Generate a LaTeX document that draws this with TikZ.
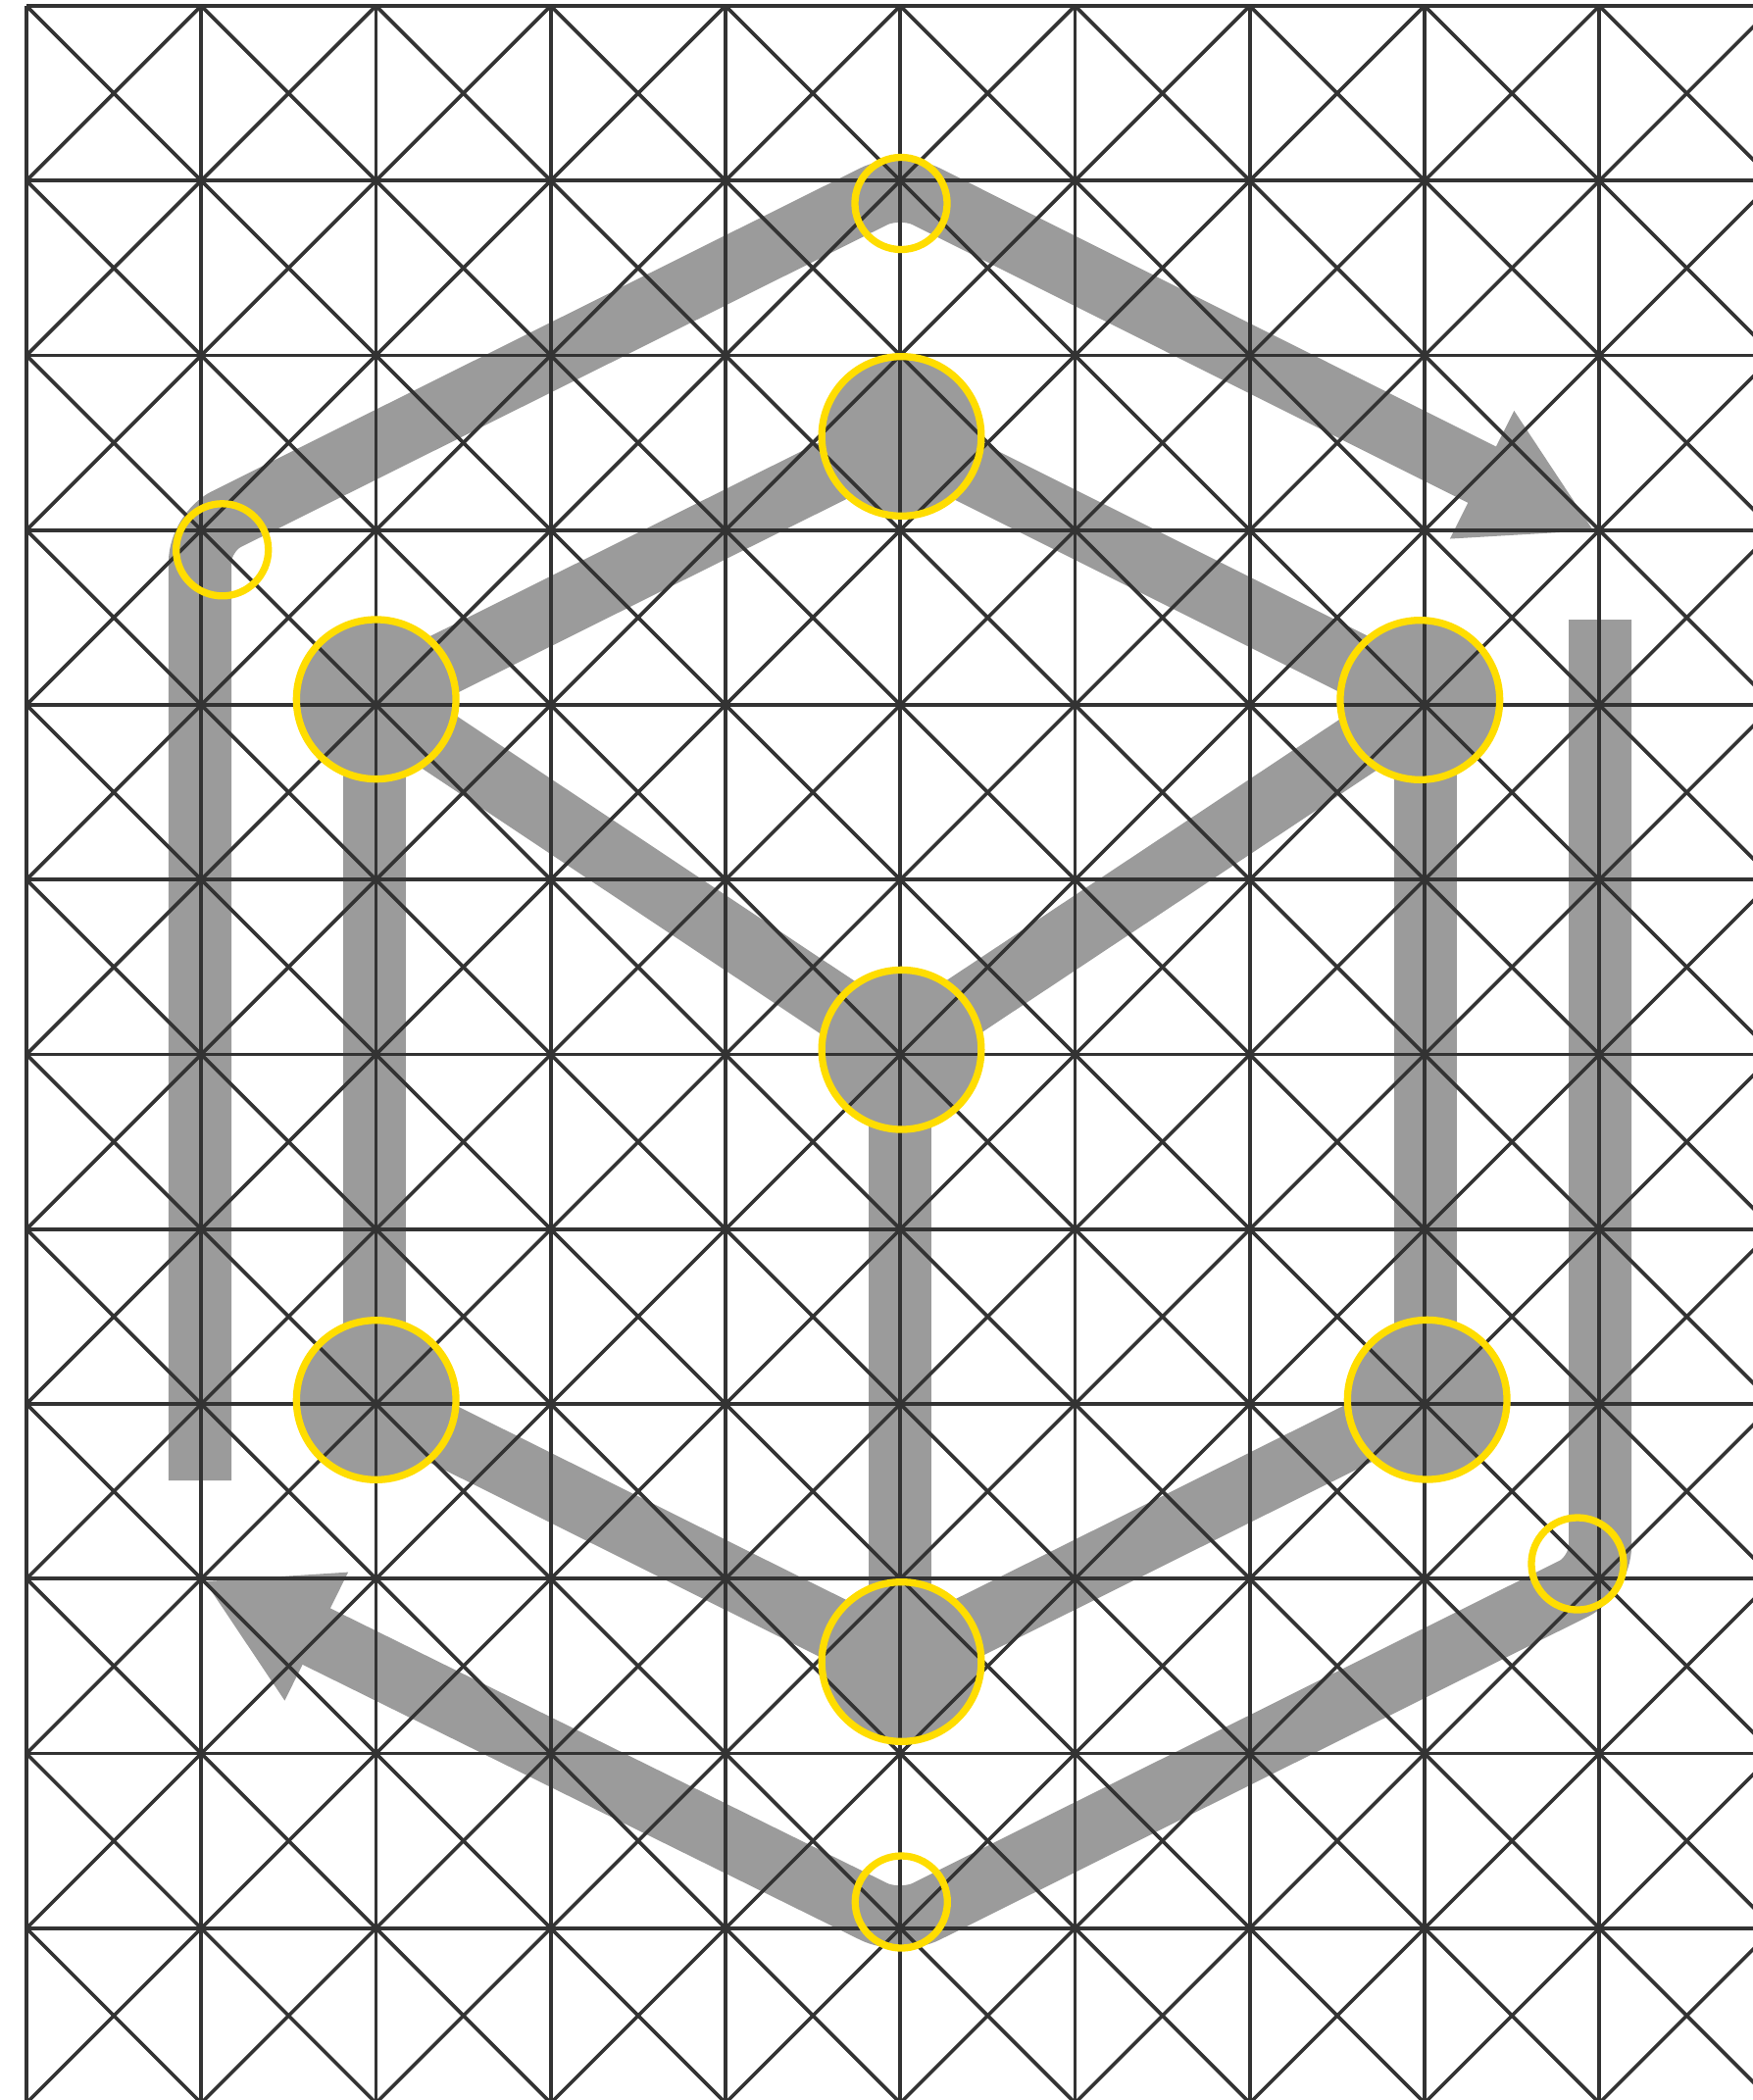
\documentclass[tikz,border=0pt]{standalone}
\usepackage{tikz}
\usetikzlibrary{arrows.meta, positioning}
\definecolor{band_gray}{HTML}{9B9B9B}
\definecolor{grid_dark}{HTML}{333333}
\definecolor{ring_yellow}{HTML}{FFDD00}
\tikzset{
	band/.style={draw=band_gray, line width=0.64cm},
	outer_band/.style={band, rounded corners=0.30cm, -{Triangle[length=1.29cm, width=1.36cm]}},
	grid_line/.style={draw=grid_dark, line width=0.036cm},
	ring/.style={circle, draw=ring_yellow, line width=0.073cm, inner sep=0pt},
	big_ring/.style={ring, minimum size=1.626cm},
	small_ring/.style={ring, minimum size=0.94cm}
}

\begin{document}
\begin{tikzpicture}[x=0.01cm, y=-0.01cm]
		\path[use as bounding box, fill=white] (0,0) rectangle (1788,2142);
		\clip (0,0) rectangle (1788,2142);
		\coordinate (hex_top) at (918,446);
		\coordinate (hex_left_up) at (382,713);
		\coordinate (hex_right_up) at (1454,714);
		\coordinate (hex_mid) at (918,1070);
		\coordinate (hex_left_low) at (382,1428);
		\coordinate (hex_right_low) at (1454,1428);
		\coordinate (hex_bottom) at (918,1695);
		\coordinate (left_start) at (204,1510);
		\coordinate (left_corner) at (204,543);
		\coordinate (top_apex) at (918,187);
		\coordinate (top_tip) at (1627,542);
		\coordinate (right_start) at (1632,632);
		\coordinate (right_corner) at (1632,1607);
		\coordinate (bottom_apex) at (918,1963);
		\coordinate (bottom_tip) at (207,1612);
		\draw[outer_band] (left_start) -- (left_corner) -- (top_apex) -- (top_tip);
		\draw[outer_band] (right_start) -- (right_corner) -- (bottom_apex) -- (bottom_tip);
		\draw[band] (hex_left_up) -- (hex_top) -- (hex_right_up);
		\draw[band] (hex_left_up) -- (hex_mid) -- (hex_right_up);
		\draw[band] (hex_left_low) -- (hex_bottom) -- (hex_right_low);
		\draw[band] (hex_left_up) -- (hex_left_low);
		\draw[band] (hex_right_up) -- (hex_right_low);
		\draw[band] (hex_mid) -- (hex_bottom);
		\foreach \cx/\cy in {919.5/445, 383.7/713.3, 1448.3/714, 919.5/1070.7, 383.7/1428, 1455.7/1427.7, 919.5/1695}
			\fill[band_gray] (\cx,\cy) circle (81.3);
		\begin{scope}[shift={(27,6)}, x=1.7815cm, y=-1.7815cm]
			\foreach \col in {0,...,10}
				\draw[grid_line] (\col,0) -- (\col,12);
			\foreach \row in {0,...,12}
				\draw[grid_line] (0,\row) -- (10,\row);
			\foreach \col in {0,...,9}
				\foreach \row in {0,...,11} {
					\draw[grid_line] (\col,\row) -- ++(1,1);
					\draw[grid_line] (\col,\row+1) -- ++(1,-1);
				}
		\end{scope}
		\node[big_ring] (ring_top) at (919.5,445) {};
		\node[big_ring] (ring_left_up) at (383.7,713.3) {};
		\node[big_ring] (ring_right_up) at (1448.3,714) {};
		\node[big_ring] (ring_mid) at (919.5,1070.7) {};
		\node[big_ring] (ring_left_low) at (383.7,1428) {};
		\node[big_ring] (ring_right_low) at (1455.7,1427.7) {};
		\node[big_ring] (ring_bottom) at (919.5,1695) {};
		\node[small_ring] (corner_top) at (919,207.5) {};
		\node[small_ring] (corner_left) at (226.7,560.8) {};
		\node[small_ring] (corner_right) at (1609,1595) {};
		\node[small_ring] (corner_bottom) at (919.3,1940) {};
	\end{tikzpicture}
\end{document}
